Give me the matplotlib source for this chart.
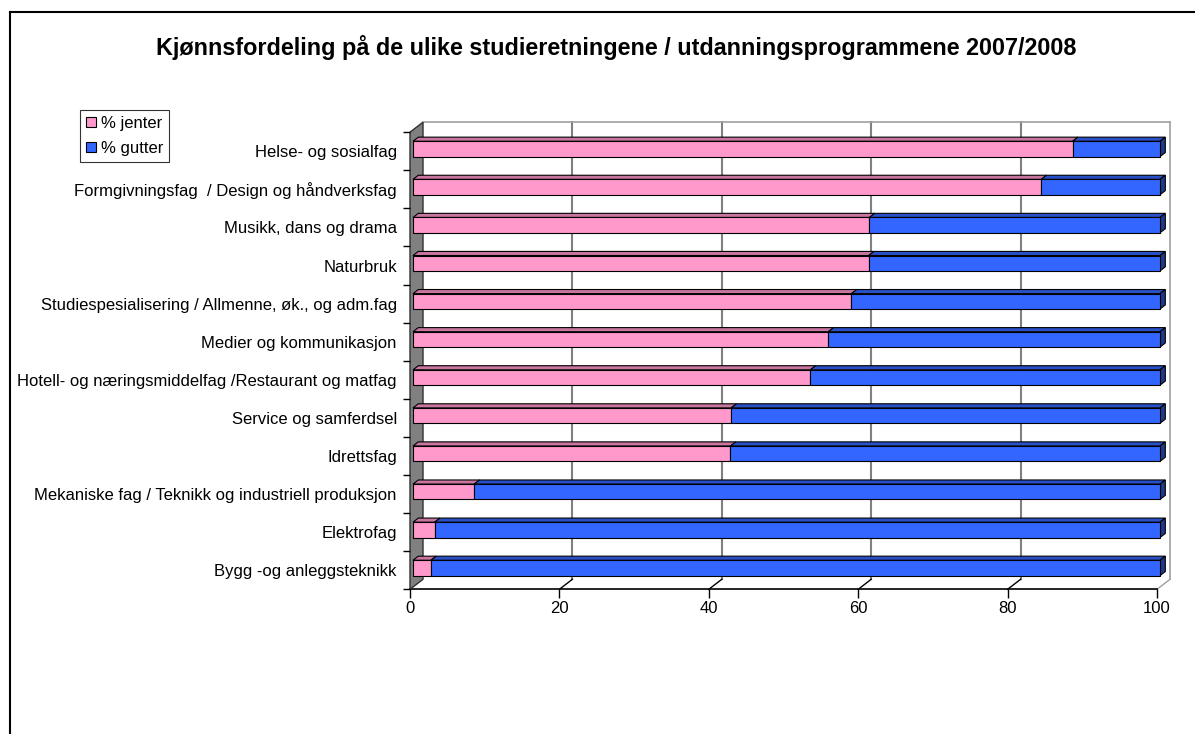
import matplotlib
matplotlib.use("Agg")
import matplotlib.pyplot as plt
from matplotlib.patches import Polygon, Patch
from matplotlib.lines import Line2D

plt.rcParams['font.family'] = ['Liberation Sans', 'DejaVu Sans']

# data (bottom to top)
categories = ["Bygg -og anleggsteknikk",
              "Elektrofag",
              "Mekaniske fag / Teknikk og industriell produksjon",
              "Idrettsfag",
              "Service og samferdsel",
              "Hotell- og næringsmiddelfag /Restaurant og matfag",
              "Medier og kommunikasjon",
              "Studiespesialisering / Allmenne, øk., og adm.fag",
              "Naturbruk",
              "Musikk, dans og drama",
              "Formgivningsfag  / Design og håndverksfag",
              "Helse- og sosialfag"]
jenter = [2.4, 2.9, 8.2, 42.5, 42.6, 53.2, 55.6, 58.7, 61.0, 61.1, 84.1, 88.3]
gutter = [100 - v for v in jenter]
xticks = [0, 20, 40, 60, 80, 100]

pink, pink_top = '#FF99CC', '#C8769F'
blue, blue_top, blue_side = '#3366FF', '#2A50C8', '#1F3A8C'

W, H = 1195, 734
fig = plt.figure(figsize=(W / 100, H / 100), dpi=100)
ax = fig.add_axes([410 / W, (H - 589.3) / H, 747 / W, (589.3 - 132.2) / H])
ax.set_xlim(0, 100)
ax.set_ylim(-0.5, 11.5)
for s in ax.spines.values():
    s.set_visible(False)
ax.patch.set_visible(False)

# depth direction (full depth) in data units
DX = 13 / 7.47
DY = 10 / 38.09


def P(x, y, d):
    return (x + d * DX, y + d * DY)


def poly(pts, fc, ec='black', lw=0.8, z=2):
    ax.add_patch(Polygon(pts, closed=True, facecolor=fc, edgecolor=ec,
                         linewidth=lw, zorder=z, clip_on=False))


def line(p, q, c='black', lw=1.0, z=1):
    ax.add_line(Line2D([p[0], q[0]], [p[1], q[1]], color=c, lw=lw,
                       zorder=z, clip_on=False))


# back wall gridlines and edges
for x in xticks[1:-1]:
    line(P(x, -0.5, 1), P(x, 11.5, 1), c='#808080', lw=1.5)
line(P(0, 11.5, 1), P(100, 11.5, 1), c='#A0A0A0', lw=1.2)
line(P(100, -0.5, 1), P(100, 11.5, 1), c='#A0A0A0', lw=1.2)
# floor
for x in xticks[1:]:
    line(P(x, -0.5, 0), P(x, -0.5, 1), c='black' if x < 100 else '#A0A0A0', lw=1.0)
line(P(0, -0.5, 0), P(100, -0.5, 0), lw=1.2)
# left wall
poly([P(0, -0.5, 0), P(0, -0.5, 1), P(0, 11.5, 1), P(0, 11.5, 0)],
     '#808080', ec='#303030', lw=1.0, z=1.5)

# bars
d0, d1, h = 0.23, 0.64, 0.202
for i, (j, g) in enumerate(zip(jenter, gutter)):
    lo, hi = i - h, i + h
    e = j + g
    poly([P(0, hi, d0), P(j, hi, d0), P(j, hi, d1), P(0, hi, d1)], pink_top)
    poly([P(j, hi, d0), P(e, hi, d0), P(e, hi, d1), P(j, hi, d1)], blue_top)
    poly([P(e, lo, d0), P(e, hi, d0), P(e, hi, d1), P(e, lo, d1)], blue_side)
    poly([P(0, lo, d0), P(j, lo, d0), P(j, hi, d0), P(0, hi, d0)], pink, z=3)
    poly([P(j, lo, d0), P(e, lo, d0), P(e, hi, d0), P(j, hi, d0)], blue, z=3)

# axes ticks
ax.set_xticks(xticks)
ax.set_xticklabels([str(v) for v in xticks], fontsize=12)
ax.tick_params(axis='x', length=6.5, width=1, pad=2, colors='black')
ax.set_yticks(range(len(categories)))
ax.set_yticklabels(categories, fontsize=12)
ax.tick_params(axis='y', which='major', length=0, pad=9.5)
ax.set_yticks([i - 0.5 for i in range(len(categories) + 1)], minor=True)
ax.tick_params(axis='y', which='minor', length=5, width=1, color='black')

# title
fig.text(616 / W, 1 - 47 / H,
         "Kjønnsfordeling på de ulike studieretningene / utdanningsprogrammene 2007/2008",
         ha='center', va='center', fontsize=16.8, fontweight='bold')

# legend
handles = [Patch(facecolor=pink, edgecolor='black', lw=0.8, label='% jenter'),
           Patch(facecolor=blue, edgecolor='black', lw=0.8, label='% gutter')]
leg = fig.legend(handles=handles, loc='upper left',
                 bbox_to_anchor=(80 / W, 1 - 110 / H), fontsize=12,
                 frameon=True, fancybox=False, edgecolor='black',
                 handlelength=0.6, handleheight=0.6, handletextpad=0.3,
                 borderpad=0.36, labelspacing=0.59, borderaxespad=0)
leg.get_frame().set_linewidth(0.8)

# outer frame
fig.add_artist(Line2D([10 / W, 1], [1 - 12 / H, 1 - 12 / H], color='black',
                      lw=1.5, transform=fig.transFigure))
fig.add_artist(Line2D([10 / W, 10 / W], [0, 1 - 12 / H], color='black',
                      lw=1.5, transform=fig.transFigure))

fig.savefig("out.png", dpi=100)
